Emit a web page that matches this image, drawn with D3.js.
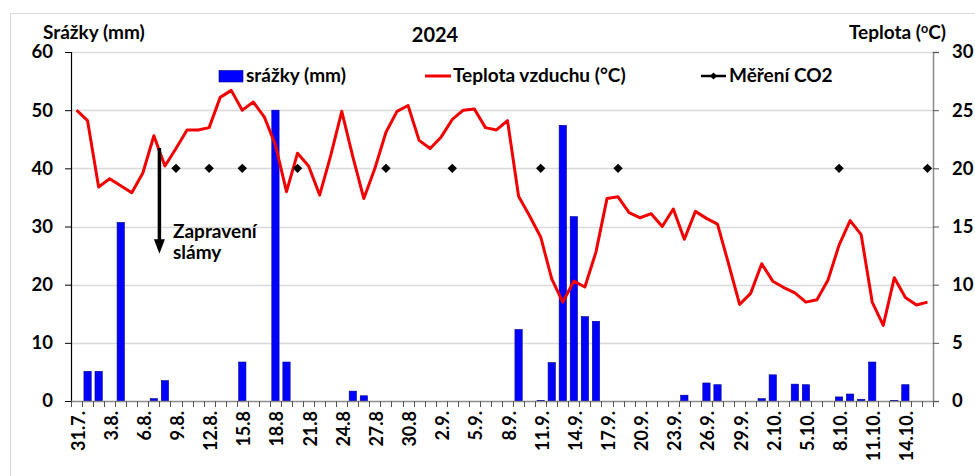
<!DOCTYPE html>
<html>
<head>
<meta charset="utf-8">
<script src="https://cdn.jsdelivr.net/npm/d3@7"></script>
<style>
  html, body { margin: 0; padding: 0; background: #fff; }
  svg { display: block; font-family: Lato, "Open Sans", sans-serif; font-weight: bold; }
</style>
</head>
<body>
<svg id="chart" width="975" height="476"></svg>
<script>
// ---------- DATA ----------
const days = [
  "31.7.",
  "1.8.","2.8.","3.8.","4.8.","5.8.","6.8.","7.8.","8.8.","9.8.","10.8.",
  "11.8.","12.8.","13.8.","14.8.","15.8.","16.8.","17.8.","18.8.","19.8.","20.8.",
  "21.8.","22.8.","23.8.","24.8.","25.8.","26.8.","27.8.","28.8.","29.8.","30.8.","31.8.",
  "1.9.","2.9.","3.9.","4.9.","5.9.","6.9.","7.9.","8.9.","9.9.","10.9.",
  "11.9.","12.9.","13.9.","14.9.","15.9.","16.9.","17.9.","18.9.","19.9.","20.9.",
  "21.9.","22.9.","23.9.","24.9.","25.9.","26.9.","27.9.","28.9.","29.9.","30.9.",
  "1.10.","2.10.","3.10.","4.10.","5.10.","6.10.","7.10.","8.10.","9.10.","10.10.",
  "11.10.","12.10.","13.10.","14.10.","15.10.","16.10."
];

// Srážky (mm) per day
const precipitation = [
  0, 5.1, 5.1, 0, 30.7, 0, 0, 0.4, 3.5, 0,
  0, 0, 0, 0, 0, 6.7, 0, 0, 50, 6.7,
  0, 0, 0, 0, 0, 1.7, 0.9, 0, 0, 0,
  0, 0, 0, 0, 0, 0, 0, 0, 0, 0,
  12.3, 0, 0.1, 6.6, 47.4, 31.7, 14.5, 13.7, 0, 0,
  0, 0, 0, 0, 0, 1.0, 0, 3.1, 2.8, 0,
  0, 0, 0.4, 4.5, 0, 2.9, 2.8, 0, 0, 0.7,
  1.2, 0.3, 6.7, 0, 0.1, 2.8, 0, 0
];

// Teplota vzduchu (°C) per day
const temperature = [
  25.0, 24.1, 18.4, 19.1, 18.5, 17.9, 19.6, 22.8, 20.2, 21.7,
  23.3, 23.3, 23.5, 26.1, 26.7, 25.0, 25.7, 24.4, 22.0, 18.0,
  21.3, 20.2, 17.7, 21.1, 24.9, 21.0, 17.4, 20.0, 23.1, 24.9,
  25.4, 22.4, 21.7, 22.7, 24.2, 25.0, 25.1, 23.5, 23.3, 24.1,
  17.6, 15.9, 14.1, 10.5, 8.5, 10.3, 9.8, 12.8, 17.4, 17.55,
  16.2, 15.75, 16.1, 15.0, 16.5, 13.9, 16.3, 15.7, 15.2, 11.8,
  8.3, 9.25, 11.8, 10.3, 9.75, 9.3, 8.5, 8.7, 10.4, 13.4,
  15.5, 14.3, 8.5, 6.5, 10.6, 8.9, 8.25, 8.5
];

// Měření CO2 (dates, plotted at 40 on the left axis)
const co2Days = ["9.8.","12.8.","15.8.","20.8.","28.8.","3.9.","11.9.","18.9.","8.10.","16.10."];
const co2Value = 40;

// Displayed x tick labels (every third day)
const tickLabels = ["31.7.","3.8.","6.8.","9.8.","12.8.","15.8","18.8","21.8","24.8","27.8","30.8",
  "2.9.","5.9.","8.9.","11.9.","14.9.","17.9.","20.9.","23.9.","26.9.","29.9.",
  "2.10.","5.10.","8.10.","11.10.","14.10."];
const tickStep = 3;

const leftTicks = [0, 10, 20, 30, 40, 50, 60];
const rightTicks = [0, 5, 10, 15, 20, 25, 30];

// ---------- LAYOUT ----------
const svg = d3.select("#chart");
const L = 71, R = 933, T = 52, B = 401;
const FS = 19;

const x = d3.scaleBand().domain(days).range([L, R]).paddingInner(0.34).paddingOuter(0.17);
const xb = d3.scaleBand().domain(days).range([L, R]).padding(0);
const yL = d3.scaleLinear().domain([0, 60]).range([B, T]);
const yR = d3.scaleLinear().domain([0, 30]).range([B, T]);

// outer border
svg.append("rect").attr("x", 10.5).attr("y", 13.5).attr("width", 970).attr("height", 480)
  .attr("fill", "none").attr("stroke", "#d9d9d9");

// gridlines
svg.append("g").selectAll("line").data(leftTicks.filter(d => d > 0)).join("line")
  .attr("x1", L).attr("x2", R)
  .attr("y1", d => Math.round(yL(d)) + 0.5).attr("y2", d => Math.round(yL(d)) + 0.5)
  .attr("stroke", "#d9d9d9").attr("stroke-width", 1.3);

// bars
svg.append("g").selectAll("rect").data(days.map((d, i) => ({d, v: precipitation[i]})).filter(o => o.v > 0))
  .join("rect")
  .attr("x", o => x(o.d)).attr("width", x.bandwidth())
  .attr("y", o => yL(o.v)).attr("height", o => B - yL(o.v))
  .attr("fill", "#0000ff").attr("stroke", "#00008b").attr("stroke-width", 0.6);

// axes
const axL = d3.axisLeft(yL).tickValues(leftTicks).tickSize(6).tickPadding(12).tickFormat(d3.format("d"));
const gL = svg.append("g").attr("transform", `translate(${L},0)`).call(axL);
gL.select(".domain").attr("stroke", "#000").attr("stroke-width", 1.2);
gL.selectAll(".tick line").attr("stroke", "#000");
gL.selectAll("text").attr("font-size", 18.5).attr("font-family", "Lato").attr("font-weight", "bold").attr("fill", "#000");

const axR = d3.axisRight(yR).tickValues(rightTicks).tickSize(6).tickPadding(13).tickFormat(d3.format("d"));
const gR = svg.append("g").attr("transform", `translate(${R},0)`).call(axR);
gR.select(".domain").attr("stroke", "#8c8c8c").attr("stroke-width", 1.5);
gR.selectAll(".tick line").attr("stroke", "#555");
gR.selectAll("text").attr("font-size", 18.5).attr("font-family", "Lato").attr("font-weight", "bold").attr("fill", "#000");

// x axis line
svg.append("line").attr("x1", L).attr("x2", R).attr("y1", B + 0.5).attr("y2", B + 0.5)
  .attr("stroke", "#8c8c8c").attr("stroke-width", 1.5);
// tick marks at category boundaries
const bounds = days.map(d => xb(d)).concat([R]);
svg.append("g").selectAll("line").data(bounds).join("line")
  .attr("x1", d => Math.round(d) + 0.5).attr("x2", d => Math.round(d) + 0.5)
  .attr("y1", B).attr("y2", B + 6).attr("stroke", "#555").attr("stroke-width", 1);
// tick labels
svg.append("g").selectAll("text").data(tickLabels).join("text")
  .attr("transform", (t, i) => `translate(${xb(days[i * tickStep]) + xb.bandwidth() / 2 + 1.5},${B + 10}) rotate(-90)`)
  .attr("text-anchor", "end").attr("dy", "0.36em")
  .attr("font-size", 18).attr("fill", "#000").text(t => t);

// temperature line
const line = d3.line().x((v, i) => xb(days[i]) + xb.bandwidth() / 2).y(v => yR(v));
svg.append("path").datum(temperature).attr("d", line)
  .attr("fill", "none").attr("stroke", "#f00000").attr("stroke-width", 3).attr("stroke-linejoin", "round");

// CO2 markers
const diamond = d3.symbol().type(d3.symbolSquare).size(44);
svg.append("g").selectAll("path").data(co2Days).join("path")
  .attr("d", diamond)
  .attr("transform", d => `translate(${xb(d) + xb.bandwidth() / 2},${yL(co2Value)}) rotate(45)`)
  .attr("fill", "#000");

// annotation arrow (Zapravení slámy) at the boundary before 8.8.
const ax = xb("8.8.");
svg.append("line").attr("x1", ax).attr("x2", ax).attr("y1", yL(43.5)).attr("y2", yL(27.5))
  .attr("stroke", "#000").attr("stroke-width", 3.5);
svg.append("path")
  .attr("d", `M${ax - 5.5},${yL(27.8)} L${ax + 5.5},${yL(27.8)} L${ax},${yL(25.3)} Z`)
  .attr("fill", "#000");
const ann = svg.append("text").attr("font-size", FS).attr("fill", "#000");
ann.append("tspan").attr("x", 173).attr("y", 238).text("Zapravení");
ann.append("tspan").attr("x", 173).attr("y", 259).text("slámy");

// titles
svg.append("text").attr("x", 435).attr("y", 42).attr("text-anchor", "middle")
  .attr("font-size", 20).attr("fill", "#000").text("2024");
svg.append("text").attr("x", 43).attr("y", 39).attr("font-size", FS).attr("fill", "#000").text("Srážky (mm)");
const tr = svg.append("text").attr("x", 946).attr("y", 39).attr("text-anchor", "end")
  .attr("font-size", FS).attr("fill", "#000");
tr.append("tspan").text("Teplota (");
tr.append("tspan").attr("font-size", 12.5).attr("dy", -6).text("o");
tr.append("tspan").attr("dy", 6).text("C)");

// legend
const lg = svg.append("g").attr("font-size", FS).attr("fill", "#000");
lg.append("rect").attr("x", 219).attr("y", 70.5).attr("width", 24).attr("height", 11.5)
  .attr("fill", "#0000ff").attr("stroke", "#00008b").attr("stroke-width", 0.6);
lg.append("text").attr("x", 246).attr("y", 82).text("srážky (mm)");
lg.append("line").attr("x1", 425).attr("x2", 451).attr("y1", 76).attr("y2", 76)
  .attr("stroke", "#f00000").attr("stroke-width", 3);
lg.append("text").attr("x", 453).attr("y", 82).text("Teplota vzduchu (°C)");
lg.append("line").attr("x1", 701).attr("x2", 726).attr("y1", 76).attr("y2", 76)
  .attr("stroke", "#000").attr("stroke-width", 2.5);
lg.append("path").attr("d", d3.symbol().type(d3.symbolSquare).size(26))
  .attr("transform", "translate(713.5,76) rotate(45)").attr("fill", "#000");
lg.append("text").attr("x", 729).attr("y", 82).text("Měření CO2");
</script>
</body>
</html>
